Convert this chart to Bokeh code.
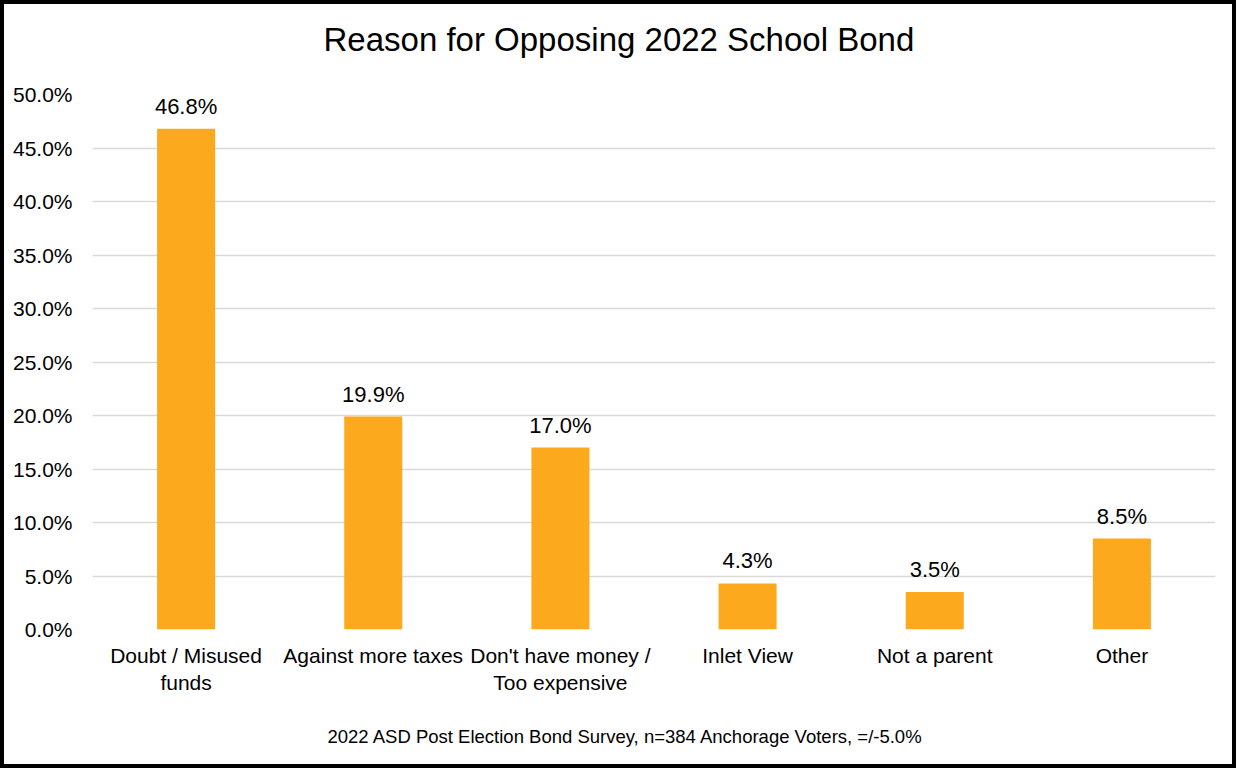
from bokeh.plotting import figure
from bokeh.models import ColumnDataSource, PrintfTickFormatter, FixedTicker, Range1d, Title
from bokeh.core.properties import value
from bokeh.embed import file_html
from bokeh.resources import INLINE

categories = ["Doubt / Misused\nfunds", "Against more taxes", "Don't have money /\nToo expensive",
              "Inlet View", "Not a parent", "Other"]
values = [46.8, 19.9, 17.0, 4.3, 3.5, 8.5]
labels = ["46.8%", "19.9%", "17.0%", "4.3%", "3.5%", "8.5%"]
y_ticks = [0, 5, 10, 15, 20, 25, 30, 35, 40, 45, 50]
title_text = "Reason for Opposing 2022 School Bond"
footer_text = "2022 ASD Post Election Bond Survey, n=384 Anchorage Voters, =/-5.0%"

FONT = "Liberation Sans"

src = ColumnDataSource(dict(cat=categories, val=values, lab=labels))

p = figure(x_range=categories, y_range=Range1d(0, 50), width=1236, height=768,
           output_backend="svg", toolbar_location=None,
           min_border_left=88, min_border_right=25, min_border_top=90, min_border_bottom=134)
p.styles = {"border": "4px solid black"}
p.outline_line_color = None

p.title.text = title_text
p.title.align = "left"
p.title.offset = 231
p.title.text_font = FONT
p.title.text_font_size = "33px"
p.title.text_font_style = "normal"
p.title.text_color = "black"
p.title.standoff = 0
p.title.padding = dict(left=0, right=0, top=0, bottom=37)

foot = Title(text=footer_text, align="left", offset=235, text_font=FONT,
             text_font_size="18.5px", text_font_style="normal", text_color="black", standoff=52)
p.add_layout(foot, "below")

p.vbar(x="cat", top="val", width=0.31, source=src, fill_color="#FDA91D", line_color=None)
p.text(x="cat", y="val", text="lab", source=src, text_align="center", text_baseline="bottom",
       y_offset=-10, text_font=value(FONT), text_font_size="22px", text_color="black")

p.yaxis.ticker = FixedTicker(ticks=y_ticks)
p.yaxis.formatter = PrintfTickFormatter(format="%.1f%%")
for ax in (p.xaxis, p.yaxis):
    ax.axis_line_color = None
    ax.major_tick_line_color = None
    ax.minor_tick_line_color = None
    ax.major_label_text_font = FONT
    ax.major_label_text_font_size = "21px"
    ax.major_label_text_color = "black"
p.yaxis.major_label_standoff = 14
p.xaxis.major_label_standoff = 8

p.xgrid.grid_line_color = None
p.ygrid.grid_line_color = "#d9d9d9"
p.ygrid.grid_line_width = 1.5

open("out.html", "w").write(file_html(p, INLINE))
